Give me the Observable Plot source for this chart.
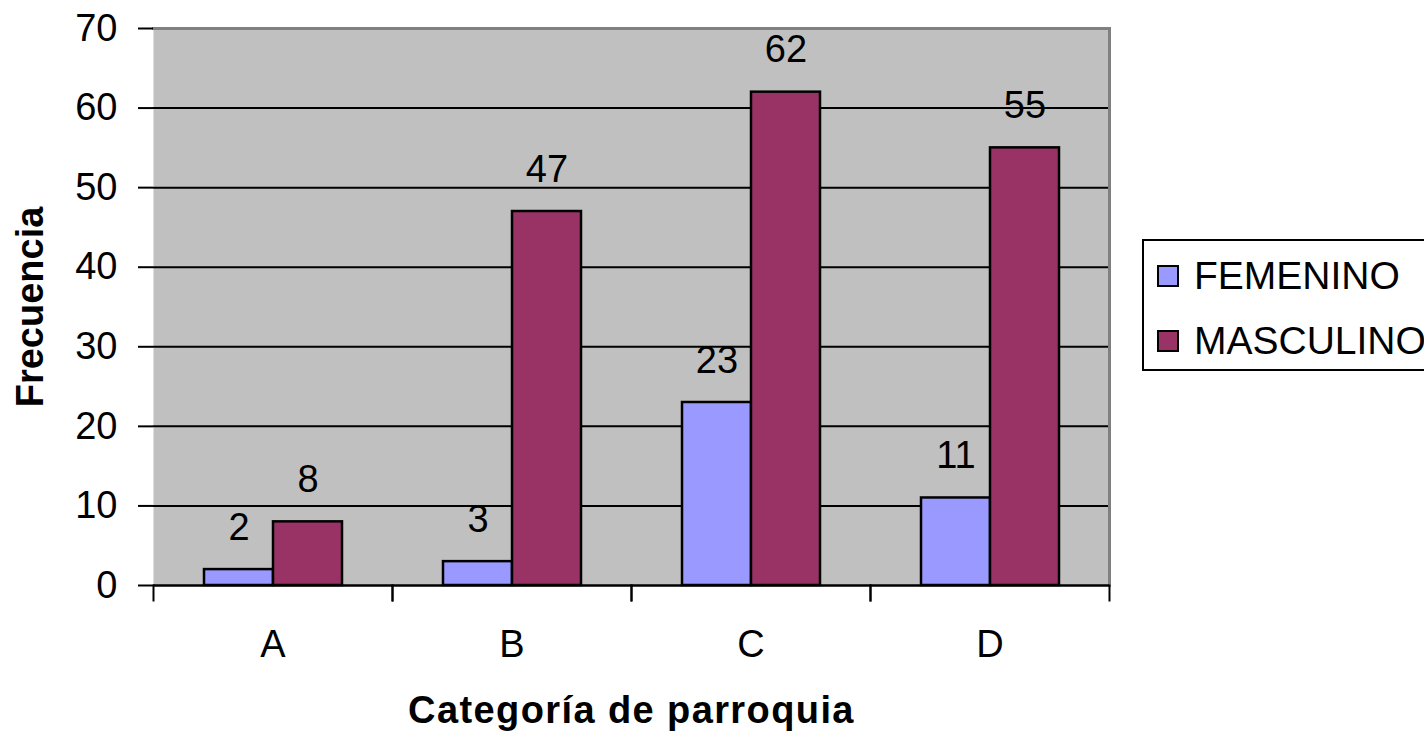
<!DOCTYPE html>
<html>
<head>
<meta charset="utf-8">
<script src="https://cdn.jsdelivr.net/npm/d3@7"></script>
<script src="https://cdn.jsdelivr.net/npm/@observablehq/plot@0.6"></script>
<style>
  html, body { margin: 0; padding: 0; background: #ffffff; overflow: hidden; }
  #wrap { position: relative; width: 1424px; height: 737px; }
  #wrap svg [aria-label="y-axis label"] text { font-weight: bold; font-size: 38px; }
  #wrap svg [aria-label="fx-axis label"] text { font-weight: bold; font-size: 38px; letter-spacing: 1.4px; }
  #legend {
    position: absolute; left: 1142px; top: 239px; width: 320px; height: 128px;
    border: 2px solid #000; background: #fff;
    font-family: "Liberation Sans", Arial, sans-serif; font-size: 39px; color: #000;
  }
  #legend .row { position: absolute; left: 13px; height: 40px; display: flex; align-items: center; white-space: nowrap; }
  #legend .sw { width: 18px; height: 18px; border: 2px solid #000; margin-right: 15px; }
</style>
</head>
<body>
<div id="wrap"><div id="legend"></div></div>
<script>
const categorias = ["A", "B", "C", "D"];
const series = ["FEMENINO", "MASCULINO"];
const femenino = [2, 3, 23, 11];
const masculino = [8, 47, 62, 55];
const colores = ["#9999ff", "#993366"];
const yTicks = [0, 10, 20, 30, 40, 50, 60, 70];
const gridLines = [10, 20, 30, 40, 50, 60];

const rows = [];
categorias.forEach((c, i) => {
  rows.push({cat: c, serie: series[0], valor: femenino[i]});
  rows.push({cat: c, serie: series[1], valor: masculino[i]});
});

const chart = Plot.plot({
  width: 1424,
  height: 737,
  marginLeft: 152,
  marginRight: 314,
  marginTop: 28,
  marginBottom: 152,
  style: {fontFamily: "'Liberation Sans', Arial, sans-serif", fontSize: "38px", background: "transparent", color: "#000"},
  fx: {domain: categorias, padding: 0, label: null},
  x: {domain: series, paddingInner: 0, paddingOuter: 0.714, axis: null},
  y: {domain: [0, 70], axis: null},
  color: {domain: series, range: colores},
  marks: [
    Plot.frame({fill: "#c0c0c0", stroke: null, facet: "super"}),
    Plot.ruleY(gridLines, {stroke: "#000", strokeWidth: 2}),
    Plot.frame({anchor: "top", stroke: "#808080", strokeWidth: 3, facet: "super"}),
    Plot.frame({anchor: "right", stroke: "#808080", strokeWidth: 3, facet: "super"}),
    Plot.barY(rows, {fx: "cat", x: "serie", y: "valor", fill: "serie", stroke: "#000", strokeWidth: 2.5}),
    Plot.text(rows, {fx: "cat", x: "serie", y: "valor", text: d => String(d.valor), dy: -42, fontSize: 38, fill: "#000"}),
    Plot.ruleY([0], {stroke: "#000", strokeWidth: 2.5}),
    Plot.frame({anchor: "left", stroke: "#000", strokeWidth: 2, insetTop: 557, insetBottom: -15}),
    Plot.frame({anchor: "right", stroke: "#000", strokeWidth: 2, insetTop: 557, insetBottom: -15}),
    Plot.axisY({
      ticks: yTicks, tickSize: 15, tickPadding: 21, line: true, strokeWidth: 2,
      fontSize: 38, label: "Frecuencia", labelAnchor: "center", labelArrow: "none", labelOffset: 137
    }),
    Plot.axisFx({
      anchor: "bottom", tickSize: 0, tickPadding: 45, fontSize: 38,
      label: "Categoría de parroquia", labelAnchor: "center", labelArrow: "none", labelOffset: 137
    })
  ]
});
document.getElementById("wrap").prepend(chart);

const legend = document.getElementById("legend");
series.forEach((s, i) => {
  const row = document.createElement("div");
  row.className = "row";
  row.style.top = (i === 0 ? 15 : 80) + "px";
  const sw = document.createElement("div");
  sw.className = "sw";
  sw.style.background = colores[i];
  const t = document.createElement("span");
  t.textContent = s;
  row.append(sw, t);
  legend.append(row);
});
</script>
</body>
</html>
